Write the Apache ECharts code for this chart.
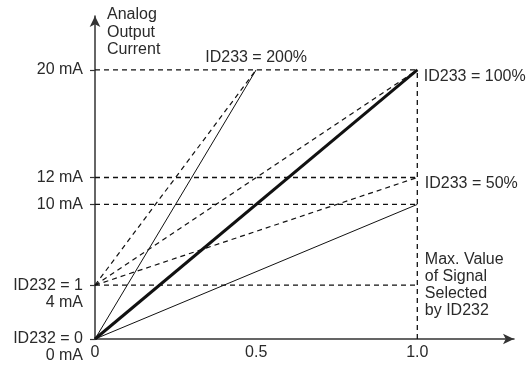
<!DOCTYPE html>
<html>
<head>
<meta charset="utf-8">
<script src="https://cdn.jsdelivr.net/npm/echarts@6/dist/echarts.min.js"></script>
<style>html,body{margin:0;padding:0;background:#fff}#c{width:529px;height:365px}</style>
</head>
<body>
<div id="c"></div>
<script>
// ---- data ----
const xTicks = [0, 0.5, 1.0];
const xTickLabels = ['0', '0.5', '1.0'];
const yTicks = [0, 4, 10, 12, 20];
const yTickLabels = ['\nID232 = 0\n0 mA', '\nID232 = 1\n4 mA', '10 mA', '12 mA', '20 mA'];
const yAxisTitle = 'Analog\nOutput\nCurrent';

// solid characteristic lines (ID232 = 0)
const solid100 = [[0, 0], [1, 20]];
const solid200 = [[0, 0], [0.5, 20]];
const solid50 = [[0, 0], [1, 10]];
// dashed characteristic lines (ID232 = 1, offset 4 mA)
const dashed200 = [[0, 4], [0.5, 20]];
const dashed100 = [[0, 4], [1, 20]];
const dashed50 = [[0, 4], [1, 12]];
// guide lines
const guide20 = [[0, 20], [1, 20]];
const guide12 = [[0, 12], [1, 12]];
const guide10 = [[0, 10], [1, 10]];
const guide4 = [[0, 4], [1, 4]];
const guideX1 = [[1, 0], [1, 20]];

const label200 = 'ID233 = 200%';
const label100 = 'ID233 = 100%';
const label50 = 'ID233 = 50%';
const labelMax = 'Max. Value\nof Signal\nSelected\nby ID232';

// ---- chart ----
const FONT = 'Liberation Sans';
const TXT = '#2a2a2a';
const FS = 16;
const chart = echarts.init(document.getElementById('c'), null, {renderer: 'canvas'});

const richStyles = {
  gap: {height: 13, lineHeight: 13, fontSize: 1},
  t: {fontFamily: FONT, fontSize: FS, lineHeight: 17, color: TXT}
};

function withEndLabel(data, text, labelOpt) {
  return data.map((p, i) => i === data.length - 1
    ? {value: p, symbol: 'circle', symbolSize: 1,
       itemStyle: {color: 'rgba(0,0,0,0)'},
       label: Object.assign({show: true, formatter: text, color: TXT,
        fontFamily: FONT, fontSize: FS, lineHeight: 17, rich: richStyles}, labelOpt)}
    : {value: p, symbol: 'none'});
}
function line(data, width, dashed) {
  return {
    type: 'line', data: data, symbol: 'none', silent: true, animation: false,
    showSymbol: false, clip: false,
    lineStyle: {color: '#111', width: width, type: dashed ? [5, 4] : 'solid', cap: 'butt'}
  };
}
function labeledLine(data, width, dashed, text, labelOpt) {
  const s = line(withEndLabel(data, text, labelOpt), width, dashed);
  s.showSymbol = true;
  s.symbol = 'circle';
  s.symbolSize = 1;
  s.itemStyle = {color: 'rgba(0,0,0,0)'};
  s.labelLayout = {hideOverlap: false};
  return s;
}
// label shifted a little below its anchor point
const lowered = t => '{gap|}\n{t|' + t + '}';

const option = {
  backgroundColor: '#fff',
  animation: false,
  grid: {left: 95, right: 15, top: 16, bottom: 26},
  xAxis: {
    type: 'value', min: 0, max: 1.3,
    axisLine: {show: true, symbol: ['none', 'arrow'], symbolSize: [8, 11],
      lineStyle: {color: '#333', width: 1.5}},
    axisTick: {show: false},
    splitLine: {show: false},
    axisLabel: {
      customValues: xTicks, color: TXT, fontFamily: FONT, fontSize: FS, margin: 6,
      formatter: v => { const i = xTicks.findIndex(t => Math.abs(t - v) < 1e-9); return i >= 0 ? xTickLabels[i] : ''; }
    }
  },
  yAxis: {
    type: 'value', min: 0, max: 24,
    name: yAxisTitle, nameLocation: 'end', nameGap: 10,
    nameTextStyle: {align: 'left', verticalAlign: 'top', color: TXT, fontFamily: FONT,
      fontSize: FS, lineHeight: 17.5, padding: [0, 0, 0, 12]},
    axisLine: {show: true, symbol: ['none', 'arrow'], symbolSize: [8, 11],
      lineStyle: {color: '#333', width: 1.5}},
    axisTick: {show: true, customValues: yTicks, length: 5, lineStyle: {color: '#333', width: 1.2}},
    splitLine: {show: false},
    axisLabel: {
      customValues: yTicks, color: TXT, fontFamily: FONT, fontSize: FS, lineHeight: 17,
      margin: 12, align: 'right',
      formatter: v => { const i = yTicks.findIndex(t => Math.abs(t - v) < 1e-9); return i >= 0 ? yTickLabels[i] : ''; }
    }
  },
  series: [
    line(guide20, 1.3, true),
    line(guide12, 1.3, true),
    line(guide10, 1.3, true),
    labeledLine(guide4, 1.3, true, labelMax, {position: 'right', distance: 7}),
    line(guideX1, 1.3, true),
    labeledLine(dashed200, 1.2, true, label200, {position: 'top', distance: 3}),
    line(dashed100, 1.2, true),
    labeledLine(dashed50, 1.2, true, lowered(label50), {position: 'right', distance: 7}),
    line(solid200, 1, false),
    line(solid50, 1, false),
    labeledLine(solid100, 3, false, lowered(label100), {position: 'right', distance: 6})
  ]
};
chart.setOption(option);
</script>
</body>
</html>
